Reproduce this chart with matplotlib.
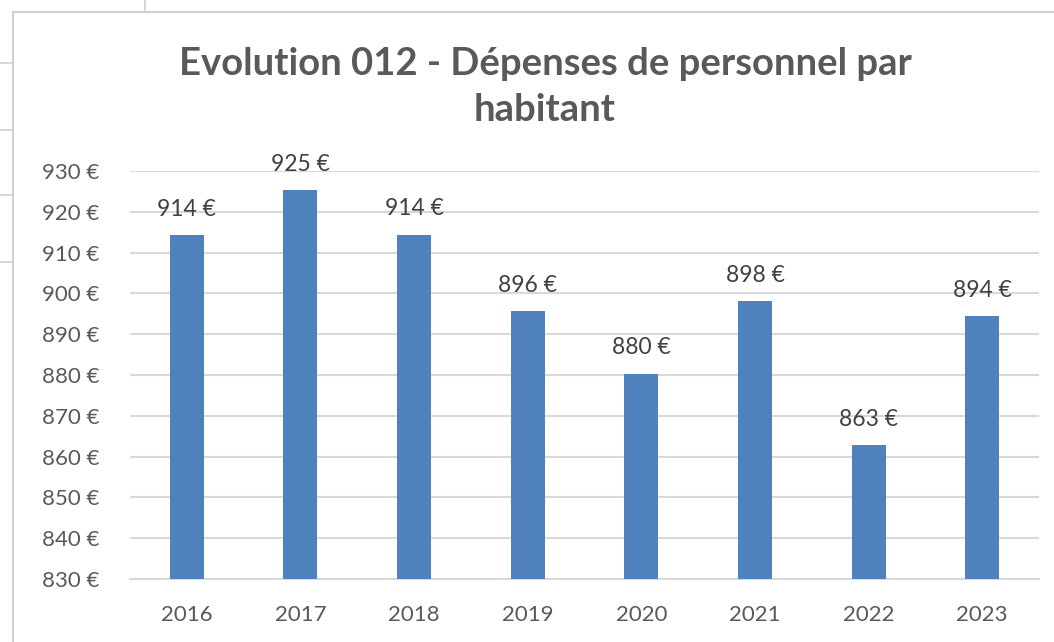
import matplotlib.pyplot as plt
from matplotlib.lines import Line2D
from matplotlib.patches import Rectangle

years = ["2016", "2017", "2018", "2019", "2020", "2021", "2022", "2023"]
depenses = [914.2, 925.3, 914.4, 895.6, 880.3, 898.1, 862.8, 894.4]
yticks = [830, 840, 850, 860, 870, 880, 890, 900, 910, 920, 930]

W, H = 1054, 642
plt.rcParams["font.family"] = ["Lato", "DejaVu Sans"]
grey = "#595959"

fig = plt.figure(figsize=(W / 100, H / 100), dpi=100)

# bits of the spreadsheet behind the chart
for y in [63, 130, 195, 262]:
    fig.add_artist(Line2D([0, 13 / W], [1 - y / H, 1 - y / H], color="#d0d0d0", lw=1.2))
fig.add_artist(Line2D([145 / W, 145 / W], [1, 1 - 12 / H], color="#d0d0d0", lw=1.2))
# chart border
fig.add_artist(Rectangle((13 / W, -0.1), 1.2, 1 - 12 / H + 0.1, transform=fig.transFigure,
                         fill=False, edgecolor="#d0d0d0", lw=1.5))

ax = fig.add_axes([130 / W, 1 - 579 / H, (1039 - 130) / W, (579 - 171) / H])
x = range(len(years))
bars = ax.bar(x, depenses, width=0.3, color="#4f81bd", zorder=3)
ax.set_ylim(830, 930)
ax.set_xlim(-0.5, 7.5)
ax.set_yticks(yticks)
ax.set_yticklabels(["{} €".format(v) for v in yticks])
ax.set_xticks(list(x))
ax.set_xticklabels(years)
ax.grid(axis="y", color="#d9d9d9", lw=1.5, zorder=0)
for s in ["top", "right", "left"]:
    ax.spines[s].set_visible(False)
ax.spines["bottom"].set_color("#d9d9d9")
ax.spines["bottom"].set_linewidth(1.5)
ax.tick_params(axis="both", length=0, labelsize=16, labelcolor=grey)
ax.tick_params(axis="y", pad=22)
ax.tick_params(axis="x", pad=19)

for b, v in zip(bars, depenses):
    ax.annotate("{:.0f} €".format(v), (b.get_x() + b.get_width() / 2, v),
                xytext=(0, 11), textcoords="offset points", ha="center", va="bottom",
                fontsize=16.5, color="#404040")

fig.text(545 / W, 1 - 87 / H, "Evolution 012 - Dépenses de personnel par\nhabitant",
         ha="center", va="center", fontsize=27.5, fontweight="bold", color=grey,
         linespacing=1.45)

fig.savefig("out.png", dpi=100)
